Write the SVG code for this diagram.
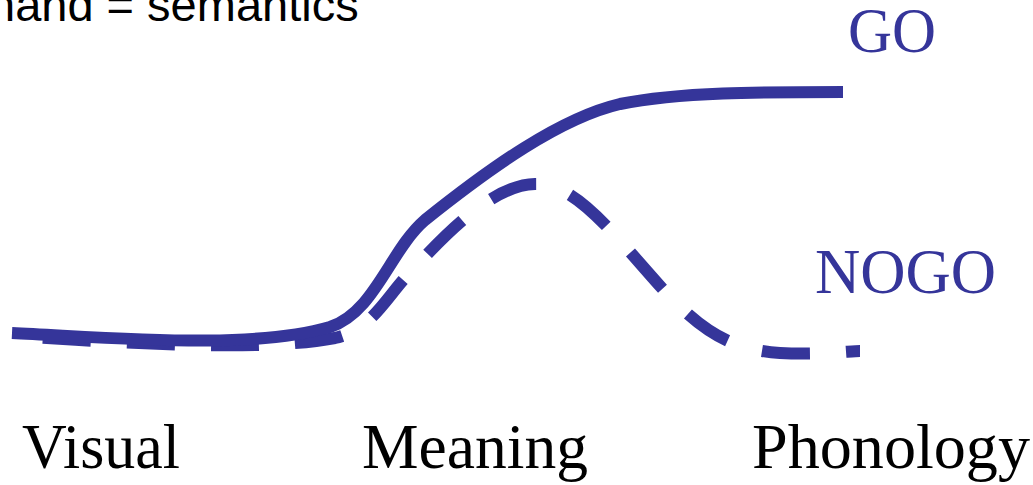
<svg xmlns="http://www.w3.org/2000/svg" width="1033" height="485" viewBox="0 0 1033 485">
<style>
.curve{fill:none;stroke:#35359a;stroke-width:12}
.dash{stroke-dasharray:48 36;stroke-dashoffset:53}
.lbl{font-family:"Liberation Serif","Times New Roman",serif;font-size:64px;fill:#000}
.state{font-family:"Liberation Serif","Times New Roman",serif;font-size:64px;fill:#35359a}
.cap{font-family:"Liberation Sans",Arial,sans-serif;font-size:47px;fill:#000}
</style>
<rect width="1033" height="485" fill="#fff"/>
<text class="cap" x="-11" y="21">hand = semantics</text>
<g id="connectors">
<path id="nogo-curve" class="curve dash" d="M12,336 C130,343 260,352 335,338 C370,330 385,300 405,278 C440,240 490,185 535,184 C575,183 610,230 660,286 C700,330 730,350 780,353 C820,355 850,351 860,351"/>
<path id="go-curve" class="curve" d="M12,333 C120,338 250,350 330,327 C375,312 390,250 425,220 C490,168 560,118 620,104 C680,92 760,92 843,92"/>
</g>
<g id="node-go"><text class="state" x="848" y="52" textLength="88" lengthAdjust="spacingAndGlyphs">GO</text></g>
<g id="node-nogo"><text class="state" x="815" y="293" textLength="181" lengthAdjust="spacingAndGlyphs">NOGO</text></g>
<g id="node-visual"><text class="lbl" x="22" y="468" textLength="158" lengthAdjust="spacingAndGlyphs">Visual</text></g>
<g id="node-meaning"><text class="lbl" x="362" y="468" textLength="226" lengthAdjust="spacingAndGlyphs">Meaning</text></g>
<g id="node-phonology"><text class="lbl" x="752" y="468" textLength="278" lengthAdjust="spacingAndGlyphs">Phonology</text></g>
</svg>
